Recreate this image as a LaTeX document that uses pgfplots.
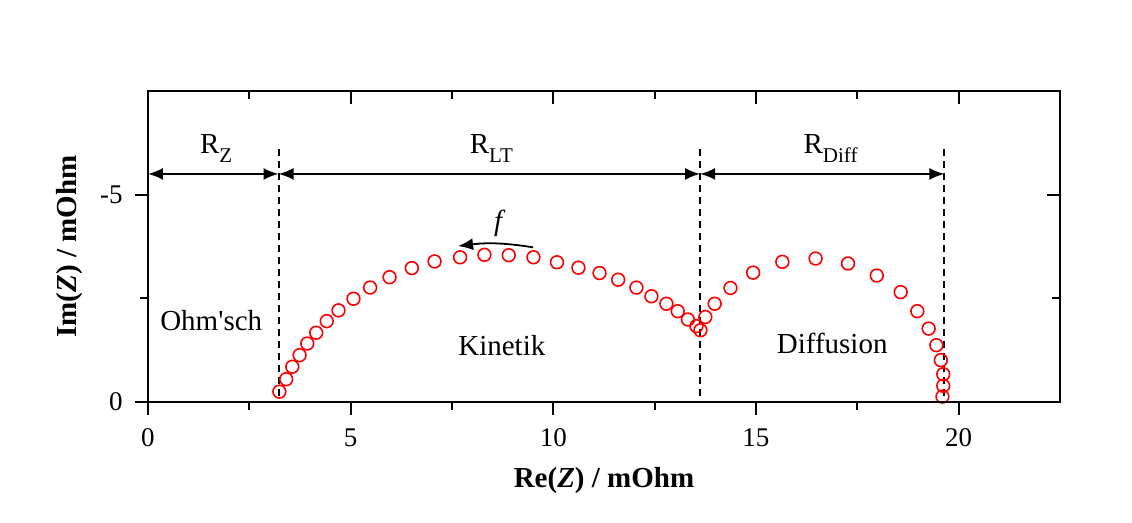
\documentclass[border=0pt]{standalone}
\usepackage{fontspec}
\setmainfont{Liberation Serif}
\usepackage{pgfplots}
\pgfplotsset{compat=1.18}
\usetikzlibrary{arrows.meta}

\pgfplotstableread{
x y
3.24 -0.25
3.41 -0.55
3.56 -0.85
3.74 -1.13
3.93 -1.41
4.15 -1.67
4.41 -1.95
4.70 -2.21
5.07 -2.49
5.48 -2.76
5.96 -3.01
6.51 -3.23
7.07 -3.39
7.70 -3.49
8.30 -3.55
8.90 -3.54
9.51 -3.49
10.09 -3.37
10.62 -3.24
11.14 -3.11
11.60 -2.95
12.05 -2.76
12.42 -2.55
12.79 -2.37
13.07 -2.19
13.32 -1.99
13.53 -1.83
13.63 -1.73
13.75 -2.05
13.98 -2.37
14.37 -2.75
14.93 -3.12
15.65 -3.38
16.47 -3.46
17.27 -3.34
17.98 -3.05
18.57 -2.65
18.98 -2.19
19.26 -1.77
19.45 -1.37
19.56 -1.01
19.62 -0.67
19.62 -0.39
19.60 -0.13
}\nyquist

\begin{document}
\begin{tikzpicture}
\pgfplotsset{
  common/.style={
    scale only axis, width=456pt, height=155.5pt,
    xmin=0, xmax=22.5, ymin=-7.5, ymax=0, y dir=reverse,
    xtick={0,5,10,15,20}, minor xtick={2.5,7.5,12.5,17.5},
    ytick={-5,0}, minor ytick={-2.5},
    major tick length=6.5pt, minor tick length=4pt,
    axis line style={line width=1pt},
    every tick/.style={black, line width=1pt},
    clip=false,
  }
}
\begin{axis}[common,
  xtick pos=left, ytick pos=left, tick align=outside,
  /pgf/number format/assume math mode=true,
  tick label style={font=\fontsize{13.5}{14}\selectfont},
  xticklabel style={anchor=center, yshift=-11.5pt, inner sep=0pt},
  yticklabel style={anchor=east, xshift=-6pt, inner sep=0pt},
  xlabel={\textbf{Re(\textit{Z}) / mOhm}},
  ylabel={\textbf{Im(\textit{Z}) / mOhm}},
  label style={font=\fontsize{14.5}{15}\selectfont},
  xlabel style={at={(axis description cs:0.5,-0.251)}, anchor=center},
  ylabel style={at={(axis description cs:-0.086,0.5)}, anchor=center, rotate=0},
]
\addplot[only marks, mark=o, red, mark size=3.2pt, mark options={line width=0.8pt}] table[x=x,y=y] {\nyquist};

% dashed boundaries
\draw[line width=1pt, dash pattern=on 3.5pt off 2.5pt] (axis cs:3.22,-6.1) -- (axis cs:3.22,0);
\draw[line width=1pt, dash pattern=on 3.5pt off 2.5pt] (axis cs:13.62,-6.1) -- (axis cs:13.62,0);
\draw[line width=1pt, dash pattern=on 3.5pt off 2.5pt] (axis cs:19.65,-6.1) -- (axis cs:19.65,0);

% range arrows
\draw[{Latex[length=7.5pt,width=6pt]}-{Latex[length=7.5pt,width=6pt]}, line width=1pt] (axis cs:0,-5.5) -- (axis cs:3.22,-5.5);
\draw[{Latex[length=7.5pt,width=6pt]}-{Latex[length=7.5pt,width=6pt]}, line width=1pt] (axis cs:3.22,-5.5) -- (axis cs:13.62,-5.5);
\draw[{Latex[length=7.5pt,width=6pt]}-{Latex[length=7.5pt,width=6pt]}, line width=1pt] (axis cs:13.62,-5.5) -- (axis cs:19.65,-5.5);

\node[anchor=base, font=\fontsize{14.5}{15}\selectfont] at (axis cs:1.68,-6.0) {R\raisebox{-4.5pt}{\fontsize{10.5}{10}\selectfont Z}};
\node[anchor=base, font=\fontsize{14.5}{15}\selectfont] at (axis cs:8.47,-6.0) {R\raisebox{-4.5pt}{\fontsize{10.5}{10}\selectfont LT}};
\node[anchor=base, font=\fontsize{14.5}{15}\selectfont] at (axis cs:16.84,-6.0) {R\raisebox{-4.5pt}{\fontsize{10.5}{10}\selectfont Diff}};

% frequency arrow
\node[font=\fontsize{14.5}{15}\selectfont\itshape] at (axis cs:8.64,-4.3) {f};
\draw[-{Latex[length=7.5pt,width=6pt]}, line width=0.9pt] (axis cs:9.5,-3.73) to[bend right=8] (axis cs:7.65,-3.76);

% region labels
\node[anchor=base, font=\fontsize{14.5}{15}\selectfont] at (axis cs:1.56,-1.73) {Ohm\textquotesingle sch};
\node[anchor=base, font=\fontsize{14.5}{15}\selectfont] at (axis cs:8.73,-1.13) {Kinetik};
\node[anchor=base, font=\fontsize{14.5}{15}\selectfont] at (axis cs:16.88,-1.18) {Diffusion};
\end{axis}

\begin{axis}[common,
  xtick pos=right, ytick pos=right, tick align=inside,
  xticklabels={}, yticklabels={},
]
\end{axis}

\pgfresetboundingbox
\path (current axis.south west) ++(-74pt,-60.5pt) rectangle ++(566pt,261.5pt);
\end{tikzpicture}
\end{document}
